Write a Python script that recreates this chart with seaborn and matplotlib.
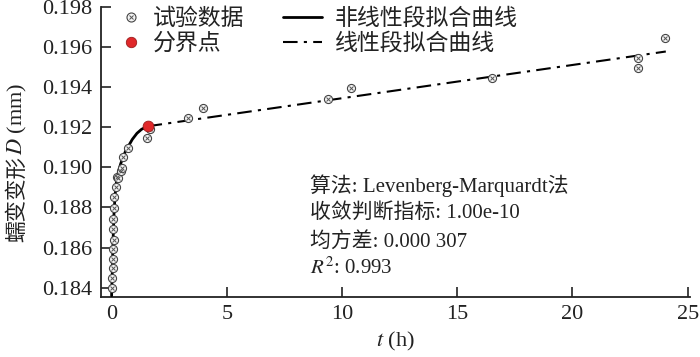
import matplotlib
matplotlib.use('Agg')
import numpy as np
import pandas as pd
import matplotlib.pyplot as plt
from matplotlib.lines import Line2D
import seaborn as sns

# ---------------------------------------------------------------------------
# data
# ---------------------------------------------------------------------------
exp_t = [0.03, 0.03, 0.05, 0.05, 0.07, 0.10, 0.07, 0.07, 0.10, 0.10, 0.18,
         0.22, 0.29, 0.40, 0.43, 0.50, 0.72, 1.52, 1.66,
         3.33, 3.98, 9.40, 10.37, 16.51, 22.85, 22.85, 24.03]
exp_d = [0.18397, 0.18447, 0.18497, 0.18542, 0.18592, 0.18638, 0.18691,
         0.18741, 0.18796, 0.18851, 0.18904,
         0.18954, 0.18946, 0.18980, 0.18995, 0.19050, 0.19095, 0.19145, 0.19190,
         0.19245, 0.19295, 0.19340, 0.19395, 0.19444, 0.19544, 0.19494, 0.19644]

break_t = [1.56]
break_d = [0.19205]

nl_t = [0.0, 0.03, 0.06, 0.10, 0.15, 0.20, 0.30, 0.40, 0.50, 0.60, 0.75,
        0.90, 1.10, 1.30, 1.56]
nl_d = [0.1836, 0.1848, 0.1862, 0.1876, 0.1886, 0.1892, 0.1898, 0.1902,
        0.1905, 0.1908, 0.1911, 0.1914, 0.1917, 0.1919, 0.19205]

lin_t = [1.56, 24.05]
lin_d = [0.19205, 0.19578]

x_ticks = [0, 5, 10, 15, 20, 25]
y_ticks = [0.184, 0.186, 0.188, 0.190, 0.192, 0.194, 0.196, 0.198]

notes = ["算法: Levenberg-Marquardt法",
         "收敛判断指标: 1.00e-10",
         "均方差: 0.000 307",
         "$R^2$: 0.993"]
notes_y = [0.18911, 0.18772, 0.18630, 0.18497]

CJK = 'Noto Sans CJK SC'
SERIF = 'Liberation Serif'

# ---------------------------------------------------------------------------
sns.set_theme(style="ticks")
plt.rcParams['font.family'] = [SERIF, CJK]
plt.rcParams['mathtext.fontset'] = 'stix'
plt.rcParams['axes.unicode_minus'] = False

df_exp = pd.DataFrame({"t": exp_t, "D": exp_d})
df_nl = pd.DataFrame({"t": nl_t, "D": nl_d})
df_lin = pd.DataFrame({"t": lin_t, "D": lin_d})
df_brk = pd.DataFrame({"t": break_t, "D": break_d})

W, H = 700, 357
fig = plt.figure(figsize=(W / 100, H / 100), dpi=100)
ax = fig.add_axes([101 / W, 1 - 296.7 / H, (690 - 101) / W, (296.7 - 7) / H])

dashdot = (0, (7, 3, 1.5, 3))
ink = "#222222"

sns.lineplot(data=df_nl, x="t", y="D", ax=ax, color="black", lw=2.0,
             sort=False, estimator=None, zorder=3)
sns.lineplot(data=df_lin, x="t", y="D", ax=ax, color="black", lw=1.5,
             sort=False, estimator=None, zorder=3, linestyle=dashdot)
sns.scatterplot(data=df_exp, x="t", y="D", ax=ax, marker="o", s=34,
                facecolor="#f4f4f4", edgecolor="#444444", linewidth=0.8,
                zorder=4)
# inner speckle of the test-data markers
sns.scatterplot(data=df_exp, x="t", y="D", ax=ax, marker="x", s=8,
                color="#555555", linewidth=0.7, zorder=4.5)
sns.scatterplot(data=df_brk, x="t", y="D", ax=ax, marker="o", s=60,
                color="#e0282a", edgecolor="#9b1c1c", linewidth=0.6, zorder=5)

ax.set_xlim(-0.46, 25.1)
ax.set_ylim(0.18355, 0.198)
ax.set_xticks(x_ticks)
ax.set_yticks(y_ticks)
ax.set_yticklabels([f"{v:.3f}" for v in y_ticks])
ax.tick_params(direction="in", length=7, width=1.2, labelsize=16, colors=ink,
               pad=6)
for s in ["top", "right"]:
    ax.spines[s].set_visible(False)
for s in ["left", "bottom"]:
    ax.spines[s].set_linewidth(1.3)
    ax.spines[s].set_color(ink)

ax.set_xlabel("$t$ (h)", fontsize=16, labelpad=4, color=ink)
ax.set_ylabel("")

for y, line in zip(notes_y, notes):
    ax.text(8.6, y, line, fontsize=15, va="center", ha="left", color=ink)

# y label built from two pieces so the CJK part keeps its glyphs
ylab_x = 17 / W
t1 = fig.text(ylab_x, (H - 242) / H, "蠕变变形", family=CJK, fontsize=15.5,
              rotation=90, ha="center", va="bottom", color=ink)
fig.canvas.draw()
bb = t1.get_window_extent()
fig.text(ylab_x, (bb.y1 + 1) / H, "$D$ (mm)", fontsize=16, rotation=90,
         ha="center", va="bottom", color=ink)

# legends: two columns with different handle lengths
h_circ = Line2D([], [], marker="o", ls="none", markersize=6.5,
                markerfacecolor="#f4f4f4", markeredgecolor="#444444",
                markeredgewidth=0.8)
h_x = Line2D([], [], marker="x", ls="none", markersize=2.8,
             markeredgecolor="#555555", markeredgewidth=0.7)
h_brk = Line2D([], [], marker="o", ls="none", markersize=7.5,
               markerfacecolor="#e0282a", markeredgecolor="#9b1c1c",
               markeredgewidth=0.6)
h_nl = Line2D([], [], color="black", lw=2.0)
h_lin = Line2D([], [], color="black", lw=1.5, linestyle=dashdot)

common = dict(frameon=False, loc="upper left", bbox_transform=fig.transFigure,
              prop={"family": CJK, "size": 16.5}, borderpad=0, borderaxespad=0,
              labelspacing=0.08)
leg1 = ax.legend([(h_circ, h_x), h_brk], ["试验数据", "分界点"],
                 bbox_to_anchor=(120 / W, (H - 7) / H), handlelength=1.0,
                 handletextpad=0.42, **common)
ax.add_artist(leg1)
ax.legend([h_nl, h_lin], ["非线性段拟合曲线", "线性段拟合曲线"],
          bbox_to_anchor=(283 / W, (H - 7) / H), handlelength=1.7,
          handletextpad=0.55, **common)
for lg in ax.get_legend(), leg1:
    for txt in lg.get_texts():
        txt.set_color(ink)

fig.savefig("out.png", dpi=100)
plt.close(fig)
